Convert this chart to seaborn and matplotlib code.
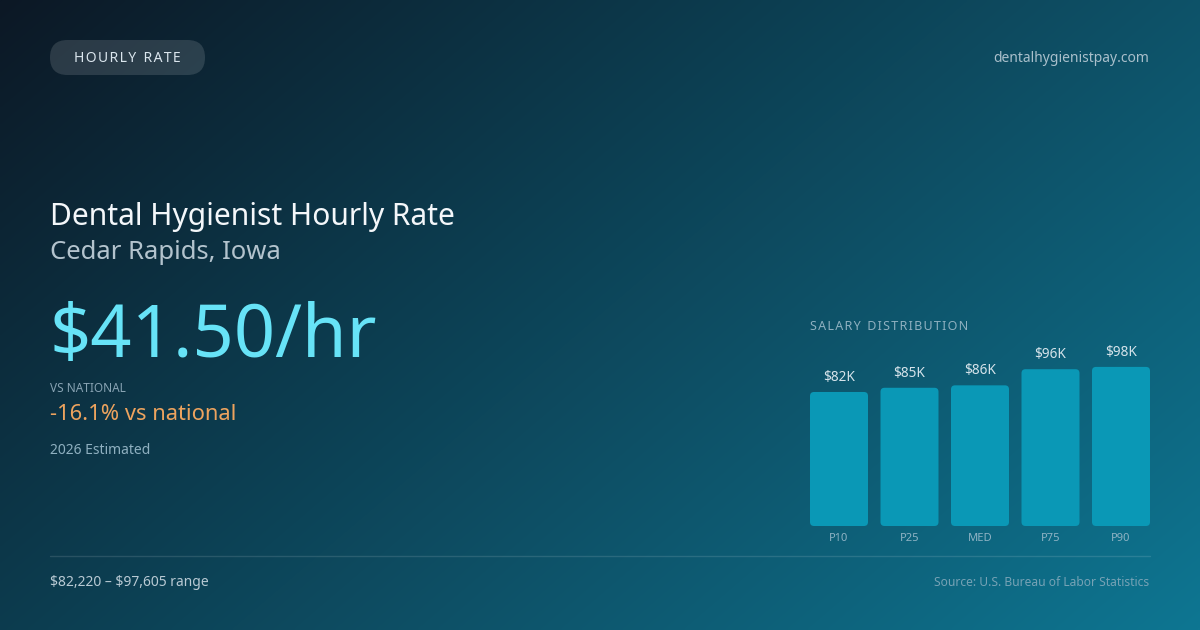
import numpy as np
import pandas as pd
import matplotlib.pyplot as plt
import seaborn as sns
from matplotlib.patches import FancyBboxPatch

# Data
percentiles = ["P10", "P25", "MED", "P75", "P90"]
salaries = [82220, 84800, 86300, 96200, 97605]
bar_labels = ["$82K", "$85K", "$86K", "$96K", "$98K"]

title = "Dental Hygienist Hourly Rate"
location = "Cedar Rapids, Iowa"
hourly = "$41.50/hr"
vs_national = "-16.1% vs national"
range_text = "\\$82,220 – \\$97,605 range"

sns.set_theme(style="white")
plt.rcParams['font.family'] = ['Noto Sans', 'DejaVu Sans']

W, H = 1200, 630
fig = plt.figure(figsize=(12, 6.3), dpi=100)

# background gradient (top-left dark navy -> bottom-right teal)
bg = fig.add_axes([0, 0, 1, 1])
yy, xx = np.mgrid[0:1:200j, 0:1:380j]
t = np.clip((xx * 0.62 + yy * 0.38), 0, 1)
c0 = np.array([12, 24, 37]) / 255
c1 = np.array([14, 118, 146]) / 255
img = c0[None, None, :] * (1 - t[..., None]) + c1[None, None, :] * t[..., None]
bg.imshow(img, extent=[0, W, H, 0], aspect="auto", interpolation="bilinear")
bg.set_xlim(0, W)
bg.set_ylim(H, 0)
bg.axis("off")

# pill
pill = FancyBboxPatch((50, 40), 155, 35, boxstyle="round,pad=0,rounding_size=17.5",
                      fc=(1, 1, 1, 0.13), ec="none")
bg.add_patch(pill)
bg.text(127.5, 58, "H\u200aO\u200aU\u200aR\u200aL\u200aY  R\u200aA\u200aT\u200aE",
        color="#dbe6ee", fontsize=10, ha="center", va="center")
bg.text(1149, 58, "dentalhygienistpay.com", color="#a9bfcb", fontsize=10,
        ha="right", va="center")

# headline block
bg.text(50, 225, title, color="#f4f7fa", fontsize=21.6, va="baseline")
bg.text(50, 259, location, color="#b3c3cd", fontsize=18.5, va="baseline")
bg.text(50, 357, hourly, color="#67e3f7", fontsize=52, va="baseline")
bg.text(50, 392, "VS NATIONAL", color="#88a3b3", fontsize=8.5, va="baseline")
bg.text(50, 420, vs_national, color="#eda35e", fontsize=15.8, va="baseline")
bg.text(50, 454, "2026 Estimated", color="#8fb0c0", fontsize=10, va="baseline")

# divider and footer
bg.plot([50, 1150], [556, 556], color=(1, 1, 1, 0.12), lw=1)
bg.text(50, 586, range_text, color="#b9cad4", fontsize=10, va="baseline")
bg.text(1149, 586, "Source: U.S. Bureau of Labor Statistics", color="#76a2b5",
        fontsize=8.7, ha="right", va="baseline")

bg.text(810, 330, "S\u200aA\u200aL\u200aA\u200aR\u200aY  D\u200aI\u200aS\u200aT\u200aR\u200aI\u200aB\u200aU\u200aT\u200aI\u200aO\u200aN",
        color="#8fb0c0", fontsize=9, va="baseline")

# bar chart
bw = 58 / 70.5
left, right = 810, 1150
bottom_px, top_px = 526, 300
ax = fig.add_axes([left / W, 1 - bottom_px / H, (right - left) / W, (bottom_px - top_px) / H])
ax.patch.set_alpha(0)
df = pd.DataFrame({"pct": percentiles, "salary": salaries})
sns.barplot(data=df, x="pct", y="salary", color="#0a98b6", width=bw, ax=ax,
            saturation=1)
ymax = (bottom_px - top_px) / 0.00163
ax.set_xlim(-bw / 2, len(percentiles) - 1 + bw / 2)
ax.set_ylim(0, ymax)

# round the bar corners
rx = 4 / 70.5
ry = 4 / 0.00163
for p in list(ax.patches):
    x0, y0 = p.get_x(), p.get_y()
    w, h = p.get_width(), p.get_height()
    fc = p.get_facecolor()
    p.remove()
    ax.add_patch(FancyBboxPatch((x0, y0), w, h,
                                boxstyle=f"round,pad=0,rounding_size={rx}",
                                mutation_aspect=ry / rx, fc=fc, ec="none"))

for i, (v, lab) in enumerate(zip(salaries, bar_labels)):
    ax.annotate(lab, (i, v), xytext=(0, 5), textcoords="offset points",
                ha="center", va="bottom", color="#d5e3ea", fontsize=9.8)

ax.set_xlabel("")
ax.set_ylabel("")
ax.set_yticks([])
ax.tick_params(axis="x", length=0, pad=5, labelsize=8, labelcolor="#8fb3c4")
sns.despine(ax=ax, left=True, bottom=True)

fig.savefig("out.png", dpi=100)
